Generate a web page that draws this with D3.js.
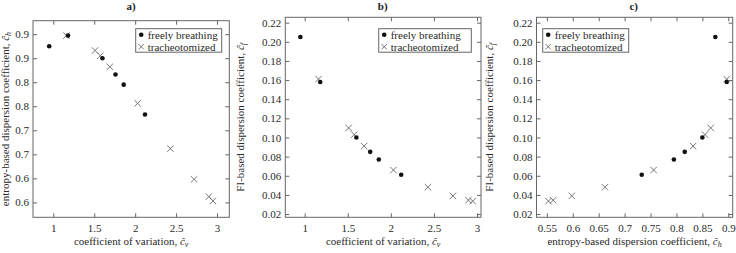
<!DOCTYPE html>
<html>
<head>
<meta charset="utf-8">
<script src="https://cdn.jsdelivr.net/npm/d3@7"></script>
<style>
  body { margin: 0; background: #fff; }
  svg { display: block; }
</style>
</head>
<body>
<svg id="chart" width="736" height="253" font-family="Liberation Serif" font-size="11"></svg>
<script>
// data, one entry per subject
var freeCv = [0.95, 1.18, 1.60, 1.76, 1.86, 2.12];
var freeCh = [0.875, 0.897, 0.850, 0.816, 0.795, 0.733];
var freeCf = [0.205, 0.158, 0.100, 0.085, 0.077, 0.061];

var trachCv = [1.16, 1.51, 1.575, 1.69, 2.03, 2.43, 2.72, 2.90, 2.95];
var trachCh = [0.897, 0.866, 0.855, 0.832, 0.756, 0.662, 0.598, 0.562, 0.553];
var trachCf = [0.161, 0.110, 0.103, 0.091, 0.066, 0.048, 0.039, 0.0345, 0.0335];

// tick values / labels
var cvTicks = [1, 1.5, 2, 2.5, 3];
var cvTickLabels = ["1", "1.5", "2", "2.5", "3"];
var chTicks = [0.55, 0.60, 0.65, 0.70, 0.75, 0.80, 0.85, 0.90];
var chTickLabels = ["0.6", "0.6", "0.7", "0.7", "0.8", "0.8", "0.9", "0.9"];
var chTicksX = [0.55, 0.6, 0.65, 0.7, 0.75, 0.8, 0.85, 0.9];
var chTickLabelsX = ["0.55", "0.6", "0.65", "0.7", "0.75", "0.8", "0.85", "0.9"];
var cfTicks = [0.02, 0.04, 0.06, 0.08, 0.10, 0.12, 0.14, 0.16, 0.18, 0.20, 0.22];
var cfTickLabels = ["0.02", "0.04", "0.06", "0.08", "0.10", "0.12", "0.14", "0.16", "0.18", "0.20", "0.22"];

var legendLabels = ["freely breathing", "tracheotomized"];

var svg = d3.select("#chart");
var frameColor = "#666";
var textColor = "#2a2a2a";
var font = "Liberation Serif";

function zip(xs, ys) {
	return xs.map(function (x, i) { return [x, ys[i]]; });
}

function panel(o) {
	var g = svg.append("g");
	var x = d3.scaleLinear().domain(o.xDom).range([o.left, o.right]);
	var y = d3.scaleLinear().domain(o.yDom).range([o.bottom, o.top]);

	// frame
	g.append("rect")
		.attr("x", o.left).attr("y", o.top)
		.attr("width", o.right - o.left).attr("height", o.bottom - o.top)
		.attr("fill", "none").attr("stroke", frameColor).attr("stroke-width", 1);

	function fmt(ticks, labels) {
		return function (d) { return labels[ticks.indexOf(d)]; };
	}

	var bottomAxis = d3.axisBottom(x).tickValues(o.xTicks).tickSize(-4).tickPadding(6.5)
		.tickFormat(fmt(o.xTicks, o.xLabels));
	var leftAxis = d3.axisLeft(y).tickValues(o.yTicks).tickSize(-4).tickPadding(4)
		.tickFormat(fmt(o.yTicks, o.yLabels));

	var gb = g.append("g").attr("transform", "translate(0," + o.bottom + ")").call(bottomAxis);
	var gl = g.append("g").attr("transform", "translate(" + o.left + ",0)").call(leftAxis);
	var gt = g.append("g").attr("transform", "translate(0," + o.top + ")")
		.call(d3.axisTop(x).tickValues(o.xTicks).tickSize(-4).tickFormat(""));
	var gr = g.append("g").attr("transform", "translate(" + o.right + ",0)")
		.call(d3.axisRight(y).tickValues(o.yTicks).tickSize(-4).tickFormat(""));

	[gb, gl, gt, gr].forEach(function (a) {
		a.attr("font-family", font).attr("font-size", 11);
		a.select(".domain").remove();
		a.selectAll(".tick line").attr("stroke", frameColor);
		a.selectAll(".tick text").attr("fill", textColor);
	});

	// crosses
	var cs = 3.2;
	g.selectAll(".cross").data(o.cross).enter().append("path")
		.attr("d", function (d) {
			var px = x(d[0]), py = y(d[1]);
			return "M" + (px - cs) + "," + (py - cs) + "L" + (px + cs) + "," + (py + cs) +
				"M" + (px - cs) + "," + (py + cs) + "L" + (px + cs) + "," + (py - cs);
		})
		.attr("stroke", "#666").attr("stroke-width", 0.9).attr("fill", "none");

	// dots
	g.selectAll(".dot").data(o.dots).enter().append("circle")
		.attr("cx", function (d) { return x(d[0]); })
		.attr("cy", function (d) { return y(d[1]); })
		.attr("r", 2.3).attr("fill", "#111");

	// title
	g.append("text").attr("x", o.titleX).attr("y", 10)
		.attr("text-anchor", "middle").attr("font-family", font).attr("font-size", 11)
		.attr("font-weight", "bold").attr("fill", "#222").text(o.title);

	// x label
	var xl = g.append("text").attr("x", (o.left + o.right) / 2).attr("y", 244.5)
		.attr("text-anchor", "middle").attr("font-family", font).attr("font-size", 11).attr("fill", textColor);
	xl.append("tspan").text(o.xName + ", ");
	xl.append("tspan").attr("font-style", "italic").text("ĉ");
	xl.append("tspan").attr("dy", 2).attr("font-size", 8).attr("font-style", "italic").text(o.xSub);

	// y label
	var yl = g.append("text")
		.attr("transform", "translate(" + o.yLabelX + "," + ((o.top + o.bottom) / 2) + ") rotate(-90)")
		.attr("text-anchor", "middle").attr("font-family", font).attr("font-size", 11).attr("fill", textColor);
	yl.append("tspan").text(o.yName + ", ");
	yl.append("tspan").attr("font-style", "italic").text("ĉ");
	yl.append("tspan").attr("dy", 2).attr("font-size", 8).attr("font-style", "italic").text(o.ySub);

	// legend
	var lg = g.append("g").attr("transform", "translate(" + o.legX + "," + o.legY + ")");
	lg.append("rect").attr("width", o.legW).attr("height", 23.5)
		.attr("fill", "#fff").attr("stroke", frameColor).attr("stroke-width", 1);
	lg.append("circle").attr("cx", 5.5).attr("cy", 6).attr("r", 2.3).attr("fill", "#111");
	lg.append("path")
		.attr("d", "M2.8,15.3L8.2,20.7M2.8,20.7L8.2,15.3")
		.attr("stroke", "#666").attr("stroke-width", 0.9);
	lg.selectAll("text.lab").data(legendLabels).enter().append("text")
		.attr("x", 12).attr("y", function (d, i) { return 9.8 + i * 12.3; })
		.attr("font-family", font).attr("font-size", 11)
		.attr("fill", textColor).text(function (d) { return d; });
}

panel({
	left: 33, right: 229.3, top: 20.7, bottom: 217.3,
	xDom: [0.752, 3.15], yDom: [0.519, 0.928],
	xTicks: cvTicks, xLabels: cvTickLabels,
	yTicks: chTicks, yLabels: chTickLabels,
	dots: zip(freeCv, freeCh), cross: zip(trachCv, trachCh),
	title: "a)", titleX: 131,
	xName: "coefficient of variation", xSub: "v",
	yName: "entropy-based dispersion coefficient", ySub: "h", yLabelX: 8.5,
	legX: 135.7, legY: 28.7, legW: 86
});

panel({
	left: 285.3, right: 481, top: 17.3, bottom: 217.3,
	xDom: [0.775, 3.046], yDom: [0.0166, 0.2256],
	xTicks: cvTicks, xLabels: cvTickLabels,
	yTicks: cfTicks, yLabels: cfTickLabels,
	dots: zip(freeCv, freeCf), cross: zip(trachCv, trachCf),
	title: "b)", titleX: 382.7,
	xName: "coefficient of variation", xSub: "v",
	yName: "FI-based dispersion coefficient", ySub: "f", yLabelX: 244,
	legX: 378.7, legY: 28.7, legW: 92.6
});

panel({
	left: 536.5, right: 732.7, top: 17.3, bottom: 217.3,
	xDom: [0.53, 0.9085], yDom: [0.0166, 0.2256],
	xTicks: chTicksX, xLabels: chTickLabelsX,
	yTicks: cfTicks, yLabels: cfTickLabels,
	dots: zip(freeCh, freeCf), cross: zip(trachCh, trachCf),
	title: "c)", titleX: 633.7,
	xName: "entropy-based dispersion coefficient", xSub: "h",
	yName: "FI-based dispersion coefficient", ySub: "f", yLabelX: 493,
	legX: 542.7, legY: 28.7, legW: 86
});
</script>
</body>
</html>
